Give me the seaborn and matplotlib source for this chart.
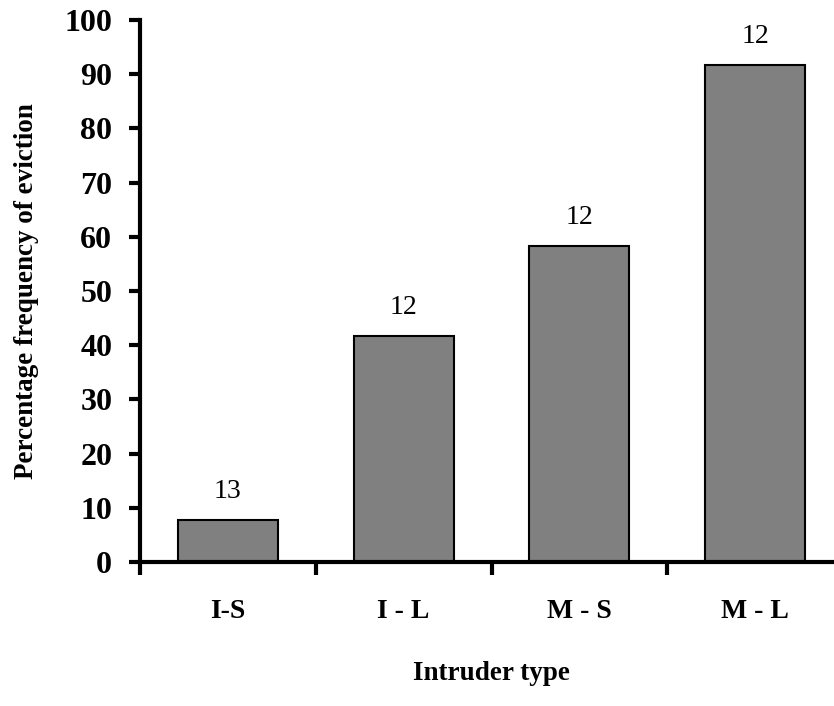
import numpy as np
import pandas as pd
import matplotlib.pyplot as plt
import seaborn as sns

# values
intruder = ['I-S', 'I - L', 'M - S', 'M - L']
eviction = [7.7, 41.7, 58.3, 91.7]
n_trials = ['13', '12', '12', '12']

df = pd.DataFrame({'intruder': intruder, 'eviction': eviction})

sns.set_style('white')
plt.rcParams['font.family'] = ['Liberation Serif', 'DejaVu Serif']
plt.rcParams['text.color'] = 'black'
plt.rcParams['axes.labelcolor'] = 'black'
plt.rcParams['xtick.color'] = 'black'
plt.rcParams['ytick.color'] = 'black'

fig = plt.figure(figsize=(8.34, 7.06), dpi=100)
# axes: x from 140px to ~843px, y from 562px (0) to 20px (100)
ax = fig.add_axes([140/834, (706-562)/706, (843-140)/834, (562-20)/706])

sns.barplot(data=df, x='intruder', y='eviction', color='#808080', saturation=1,
            width=0.57, edgecolor='black', linewidth=1.5, ax=ax)

# sample size above each bar
for i, (v, n) in enumerate(zip(eviction, n_trials)):
    ax.text(i, v + 3, n, ha='center', va='bottom', fontsize=20)

ax.set_ylim(0, 100)
ax.set_xlim(-0.5, 3.5)
ax.set_yticks(np.arange(0, 101, 10))
ax.set_xticks(np.arange(-0.5, 3.6, 1), minor=True)

for s in ['top', 'right']:
    ax.spines[s].set_visible(False)
for s in ['left', 'bottom']:
    ax.spines[s].set_linewidth(3)
    ax.spines[s].set_color('black')
    ax.spines[s].set_zorder(5)

ax.tick_params(axis='y', which='major', direction='out', length=8, width=3,
               left=True, labelsize=23, pad=12)
ax.tick_params(axis='x', which='major', length=0, labelsize=20, pad=27)
ax.tick_params(axis='x', which='minor', direction='out', length=9, width=3,
               bottom=True)
for lbl in ax.get_yticklabels() + ax.get_xticklabels():
    lbl.set_fontweight('bold')

ax.set_xlabel('Intruder type', fontsize=19.5, fontweight='bold', labelpad=26)
ax.set_ylabel('Percentage frequency of eviction', fontsize=19.5,
              fontweight='bold', labelpad=18)

fig.savefig('out.png', dpi=100)
